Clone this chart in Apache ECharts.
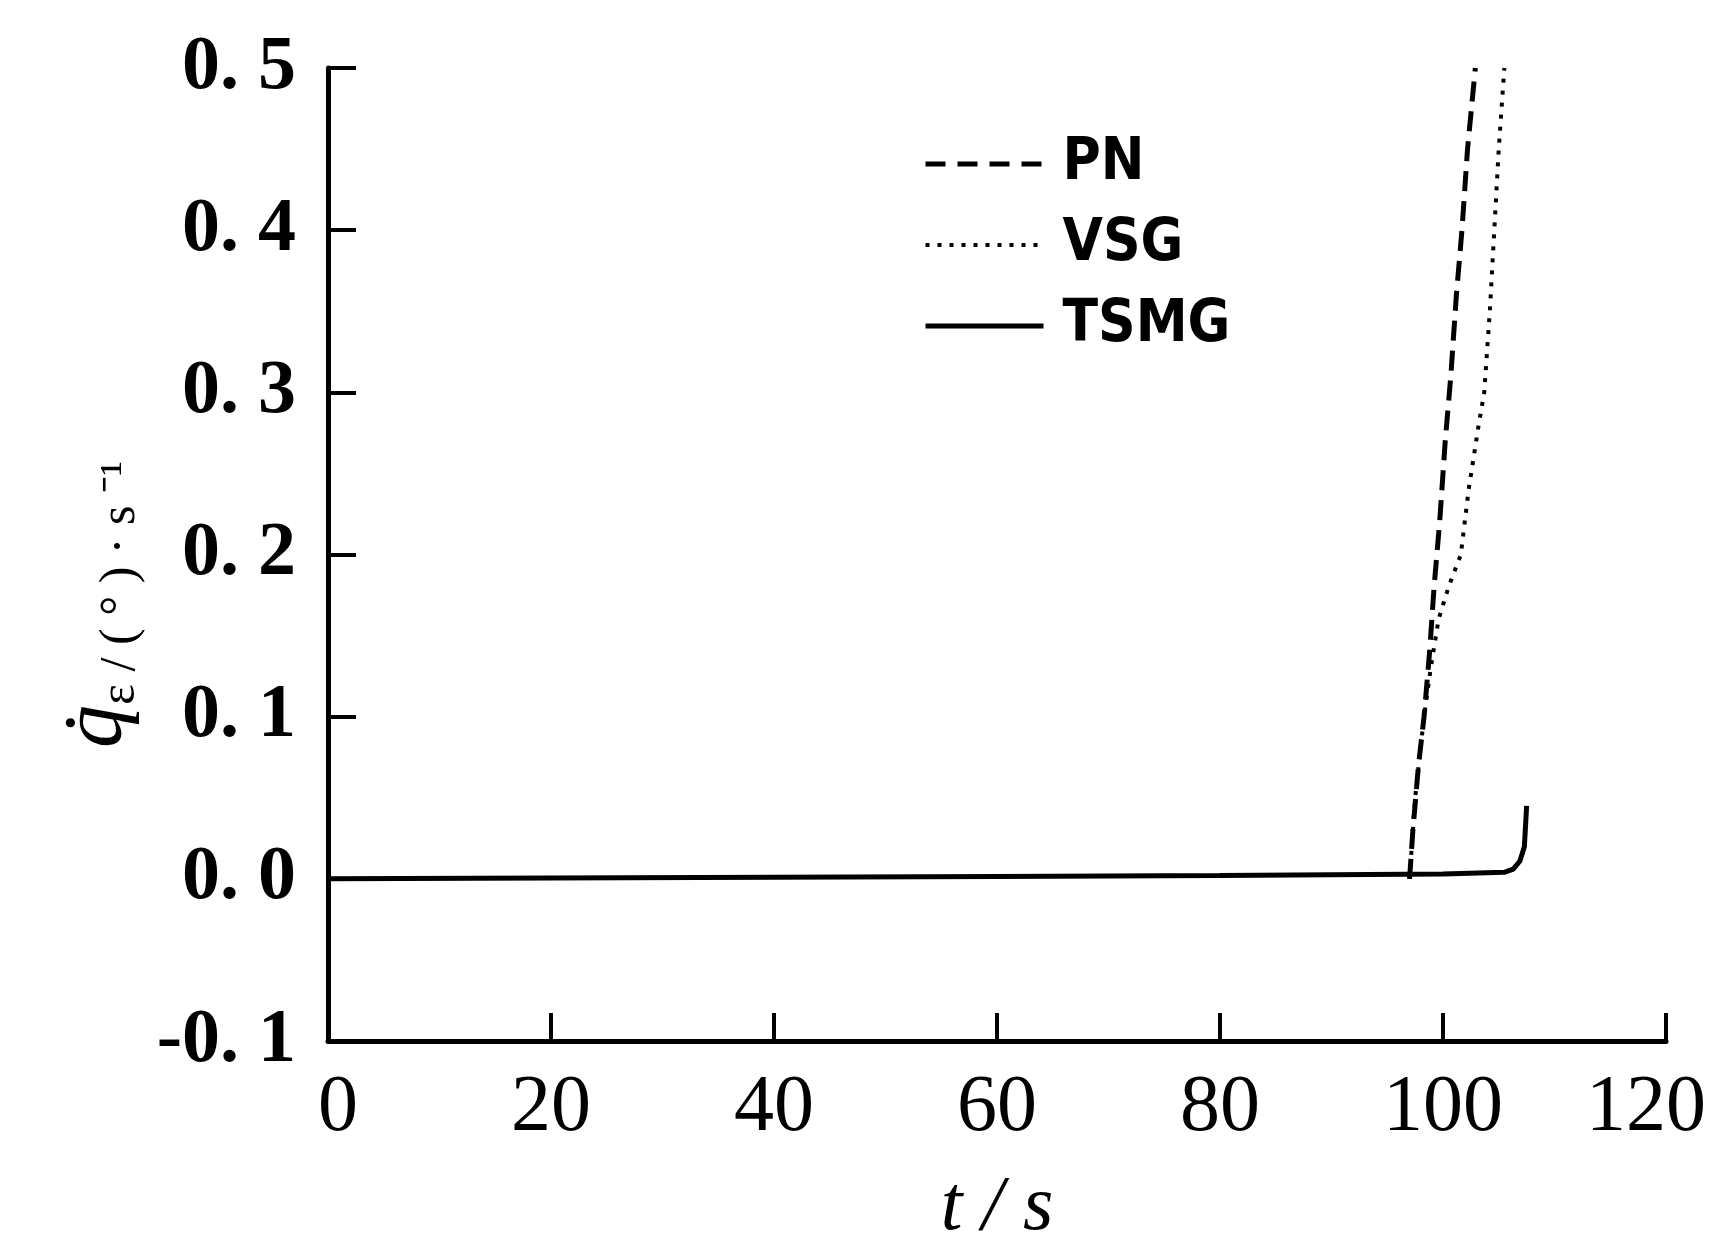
<!DOCTYPE html>
<html>
<head>
<meta charset="utf-8">
<script src="https://cdn.jsdelivr.net/npm/echarts@6/dist/echarts.min.js"></script>
<style>
html,body{margin:0;padding:0;background:#fff;}
#chart{width:1713px;height:1257px;}
</style>
</head>
<body>
<div id="chart"></div>
<script>
// ---- data ----
const seriesNames = ['PN', 'VSG', 'TSMG'];
const pnData = [[97.0,0.0],[97.3,0.03],[97.8,0.07],[98.3,0.10],[98.8,0.14],[99.2,0.18],[99.7,0.22],[100.2,0.27],[100.7,0.31],[101.2,0.36],[101.7,0.40],[102.2,0.45],[102.9,0.50]];
const vsgData = [[97.0,0.0],[97.5,0.05],[98.3,0.10],[98.9,0.13],[99.6,0.16],[100.5,0.18],[101.6,0.20],[102.3,0.24],[103.2,0.28],[103.7,0.30],[104.2,0.35],[104.6,0.40],[105.0,0.45],[105.5,0.50]];
const tsmgData = [[0,0.0],[20,0.0005],[40,0.001],[60,0.0015],[80,0.002],[100,0.003],[105.5,0.004],[106.3,0.006],[106.9,0.011],[107.3,0.02],[107.5,0.045]];
const xTicks = [0, 20, 40, 60, 80, 100, 120];
const yTicks = ['-0. 1', '0. 0', '0. 1', '0. 2', '0. 3', '0. 4', '0. 5'];

const chart = echarts.init(document.getElementById('chart'), null, {renderer: 'canvas'});
const black = '#000';
const labelFont = {fontFamily: 'Liberation Serif, serif', fontSize: 80, color: black};
const option = {
  backgroundColor: '#fff',
  animation: false,
  grid: {left: 328, right: 47, top: 68, bottom: 216, containLabel: false, outerBoundsMode: 'none'},
  legend: {
    orient: 'vertical',
    left: 918,
    top: 130,
    itemWidth: 118,
    itemHeight: 20,
    itemGap: 23,
    data: [
      {name: seriesNames[0], lineStyle: {width: 5, type: [20, 12]}},
      {name: seriesNames[1], lineStyle: {width: 4, type: [4, 8]}},
      {name: seriesNames[2], lineStyle: {width: 5, type: 'solid'}}
    ],
    itemStyle: {opacity: 0},
    lineStyle: {opacity: 1},
    textStyle: {fontFamily: 'Liberation Sans Narrow, DejaVu Sans Condensed, Liberation Sans, sans-serif', fontWeight: 'bold', fontSize: 58, color: black, padding: [0, 0, 0, 14]}
  },
  xAxis: {
    type: 'value', min: 0, max: 120, interval: 20,
    name: 't / s', nameLocation: 'middle', nameGap: 128,
    nameTextStyle: {fontFamily: 'Liberation Serif, serif', fontStyle: 'italic', fontSize: 78, color: black},
    axisLine: {onZero: false, lineStyle: {color: black, width: 5}},
    axisTick: {inside: true, length: 28, lineStyle: {color: black, width: 4}},
    axisLabel: {margin: 28, ...labelFont,
      formatter: v => {
        const s = String(xTicks[xTicks.indexOf(v)]);
        if (v === 120) return '{r|' + s + '}';
        if (v === 0) return '{l|' + s + '}';
        return s;
      },
      rich: {
        r: {...labelFont, padding: [0, 40, 0, 0]},
        l: {...labelFont, padding: [0, 0, 0, 20]}
      }
    },
    splitLine: {show: false}
  },
  yAxis: {
    type: 'value', min: -0.1, max: 0.5, interval: 0.1,
    name: '{q|q̇}{s|ε / ( ° ) · s ⁻¹}', nameLocation: 'middle', nameGap: 180,
    nameTextStyle: {
      color: black,
      padding: [0, 100, 0, 0],
      rich: {
        q: {fontFamily: 'Liberation Serif, serif', fontStyle: 'italic', fontSize: 86, color: black, lineHeight: 96},
        s: {fontFamily: 'Liberation Serif, serif', fontSize: 50, color: black, verticalAlign: 'bottom', padding: [40, 0, 0, 0]}
      }
    },
    axisLine: {onZero: false, lineStyle: {color: black, width: 5}},
    axisTick: {inside: true, length: 28, lineStyle: {color: black, width: 4}},
    axisLabel: {margin: 32, fontFamily: 'Liberation Serif, serif', fontWeight: 'bold', fontSize: 76, color: black,
      formatter: v => yTicks[Math.round((v + 0.1) * 10)]},
    splitLine: {show: false}
  },
  series: [
    {name: 'PN', type: 'line', data: pnData, showSymbol: false, symbol: 'none',
     lineStyle: {color: black, width: 5, type: [20, 10]}, itemStyle: {color: black}},
    {name: 'VSG', type: 'line', data: vsgData, showSymbol: false, symbol: 'none',
     lineStyle: {color: black, width: 4, type: [4, 8]}, itemStyle: {color: black}},
    {name: 'TSMG', type: 'line', data: tsmgData, showSymbol: false, symbol: 'none',
     lineStyle: {color: black, width: 5, type: 'solid'}, itemStyle: {color: black}}
  ]
};
chart.setOption(option);
</script>
</body>
</html>
